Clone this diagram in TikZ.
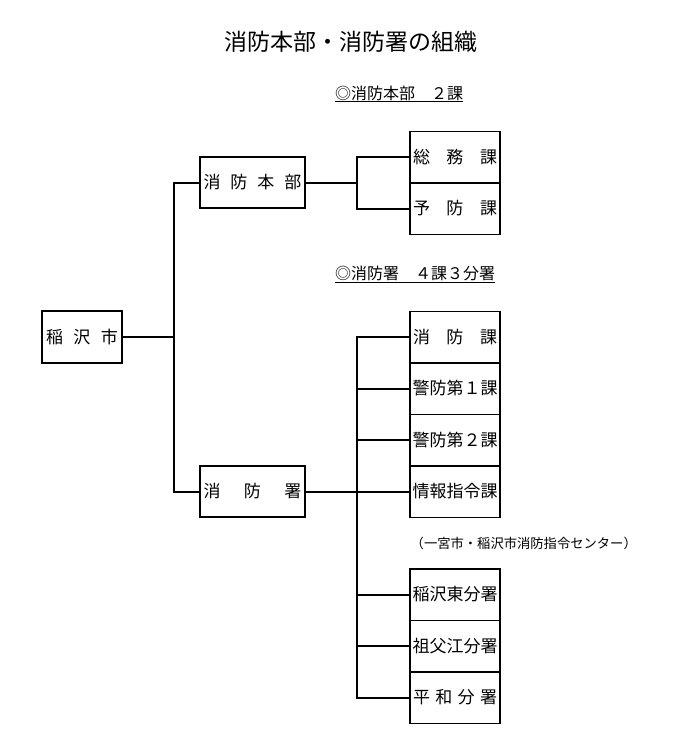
\documentclass[tikz,border=0pt]{standalone}
\usepackage{fontspec}
\setmainfont{Noto Sans CJK JP}
\begin{document}
\begin{tikzpicture}[x=1pt,y=-1pt,
  box/.style={draw,line width=1.5pt,inner sep=0pt,font=\fontsize{17pt}{20pt}\selectfont},
  rbox/.style={box,minimum width=90pt,minimum height=51.5pt},
  lbox/.style={box,minimum width=105pt,minimum height=51pt},
  link/.style={line width=2pt},
  sub/.style={anchor=base west,inner sep=0pt,font=\fontsize{16pt}{18pt}\selectfont}]
\useasboundingbox (0,0) rectangle (690,755);
\node[font=\fontsize{23pt}{26pt}\selectfont] (title) at (351,42) {消防本部・消防署の組織};
\node[sub] (sub1) at (335,99) {\underline{◎消防本部　２課}};
\node[sub] (sub2) at (335,279) {\underline{◎消防署　４課３分署}};
\node[anchor=west,inner sep=0pt,font=\fontsize{13.3pt}{15pt}\selectfont] (note) at (410.5,543) {（一宮市・稲沢市消防指令センター）};
% left column
\node[box,minimum width=80pt,minimum height=52pt] (ina) at (82,337) {\makebox[72pt]{稲\hfill 沢\hfill 市}};
\node[lbox] (honbu) at (252.5,182.5) {\makebox[98pt]{消\hfill 防\hfill 本\hfill 部}};
\node[lbox] (sho) at (252.5,491.5) {\makebox[98pt]{消\hfill 防\hfill 署}};
% right column
\node[rbox] (somu) at (455,157) {\makebox[84pt]{総\hfill 務\hfill 課}};
\node[rbox] (yobo) at (455,208.5) {\makebox[84pt]{予\hfill 防\hfill 課}};
\node[rbox] (shoboka) at (455,337) {\makebox[84pt]{消\hfill 防\hfill 課}};
\node[rbox] (keibo1) at (455,388.5) {\makebox[84pt]{警\hfill 防\hfill 第\hfill １\hfill 課}};
\node[rbox] (keibo2) at (455,440) {\makebox[84pt]{警\hfill 防\hfill 第\hfill ２\hfill 課}};
\node[rbox] (joho) at (455,491.5) {\makebox[84pt]{情\hfill 報\hfill 指\hfill 令\hfill 課}};
\node[rbox] (higashi) at (455,594.5) {\makebox[84pt]{稲\hfill 沢\hfill 東\hfill 分\hfill 署}};
\node[rbox] (sobue) at (455,646) {\makebox[84pt]{祖\hfill 父\hfill 江\hfill 分\hfill 署}};
\node[rbox] (heiwa) at (455,697.5) {\makebox[84pt]{平\hfill 和\hfill 分\hfill 署}};
% connectors
\coordinate (tk) at (174,0);
\coordinate (jx) at (357,0);
\draw[link] (ina.east) -- (ina.east -| tk);
\draw[link] (honbu.west) -- (honbu.west -| tk) -- (sho.west -| tk) -- (sho.west);
\draw[link] (honbu.east) -- (honbu.east -| jx);
\draw[link] (somu.west) -- (somu.west -| jx) -- (yobo.west -| jx) -- (yobo.west);
\draw[link] (sho.east) -- (joho.west);
\draw[link] (shoboka.west) -- (shoboka.west -| jx) -- (heiwa.west -| jx) -- (heiwa.west);
\foreach \n in {keibo1,keibo2,higashi,sobue}
  \draw[link] (\n.west) -- (\n.west -| jx);
\end{tikzpicture}
\end{document}
